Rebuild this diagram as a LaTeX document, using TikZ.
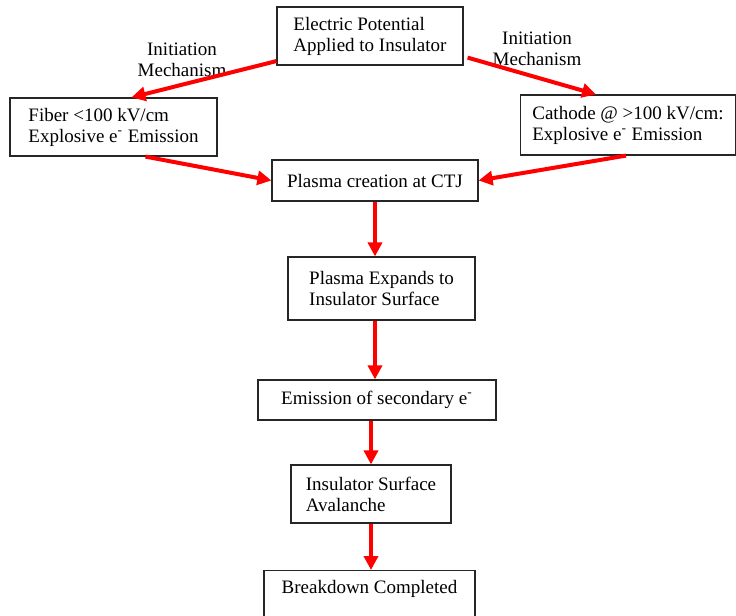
\documentclass[tikz,border=0pt]{standalone}
\usepackage{fontspec}
\setmainfont{Liberation Serif}
\usetikzlibrary{arrows.meta}

\begin{document}
\begin{tikzpicture}[x=0.5pt,y=-0.5pt,font=\fontsize{9.5}{10.5}\selectfont,
  stage/.style={draw=black!85,line width=0.6pt,align=left,inner xsep=6pt,inner ysep=2pt},
  flow/.style={red,line width=2pt,-{Triangle[length=7pt,width=7pt]}}]
\useasboundingbox (0,0) rectangle (736,616);
% boxes
\node[stage,minimum width=93pt,minimum height=29pt] (potential) at (370,36) {Electric Potential\\Applied to Insulator};
\node[stage,minimum width=103.5pt,minimum height=29pt] (fiber) at (113.5,127) {Fiber <100 kV/cm\\Explosive e\textsuperscript{-} Emission};
\node[stage,minimum width=107pt,minimum height=30pt] (cathode) at (628,125) {Cathode @ >100 kV/cm:\\Explosive e\textsuperscript{-} Emission};
\node[stage,minimum width=103pt,minimum height=20.5pt] (plasma) at (375,180.5) {Plasma creation at CTJ};
\node[stage,minimum width=93.5pt,minimum height=31.5pt] (expand) at (381.5,288.5) {Plasma Expands to\\Insulator Surface};
\node[stage,minimum width=119pt,minimum height=20pt] (secondary) at (377,400) {Emission of secondary e\textsuperscript{-}};
\node[stage,minimum width=80pt,minimum height=29pt] (avalanche) at (371,494) {Insulator Surface\\Avalanche};
\node[stage,anchor=north,minimum width=105.5pt,inner ysep=5pt,text depth=28pt] (breakdown) at (369.5,570) {Breakdown Completed};
% labels
\node[align=center] (initleft) at (182,60) {Initiation\\Mechanism};
\node[align=center] (initright) at (537,49) {Initiation\\Mechanism};
% arrows
\draw[flow] (potential.195) -- ([xshift=9pt]fiber.north);
\draw[flow] ([xshift=2pt]potential.347) -- ([xshift=-16pt]cathode.north);
\draw[flow] ([xshift=16pt]fiber.south) -- (plasma.west);
\draw[flow] ([xshift=-1pt]cathode.south) -- (plasma.east);
\draw[flow] (plasma.south) -- (plasma.south |- expand.north);
\draw[flow] (expand.south -| plasma.south) -- (plasma.south |- secondary.north);
\draw[flow] (secondary.south -| avalanche.north) -- (avalanche.north);
\draw[flow] (avalanche.south) -- (avalanche.south |- breakdown.north);
\end{tikzpicture}
\end{document}
